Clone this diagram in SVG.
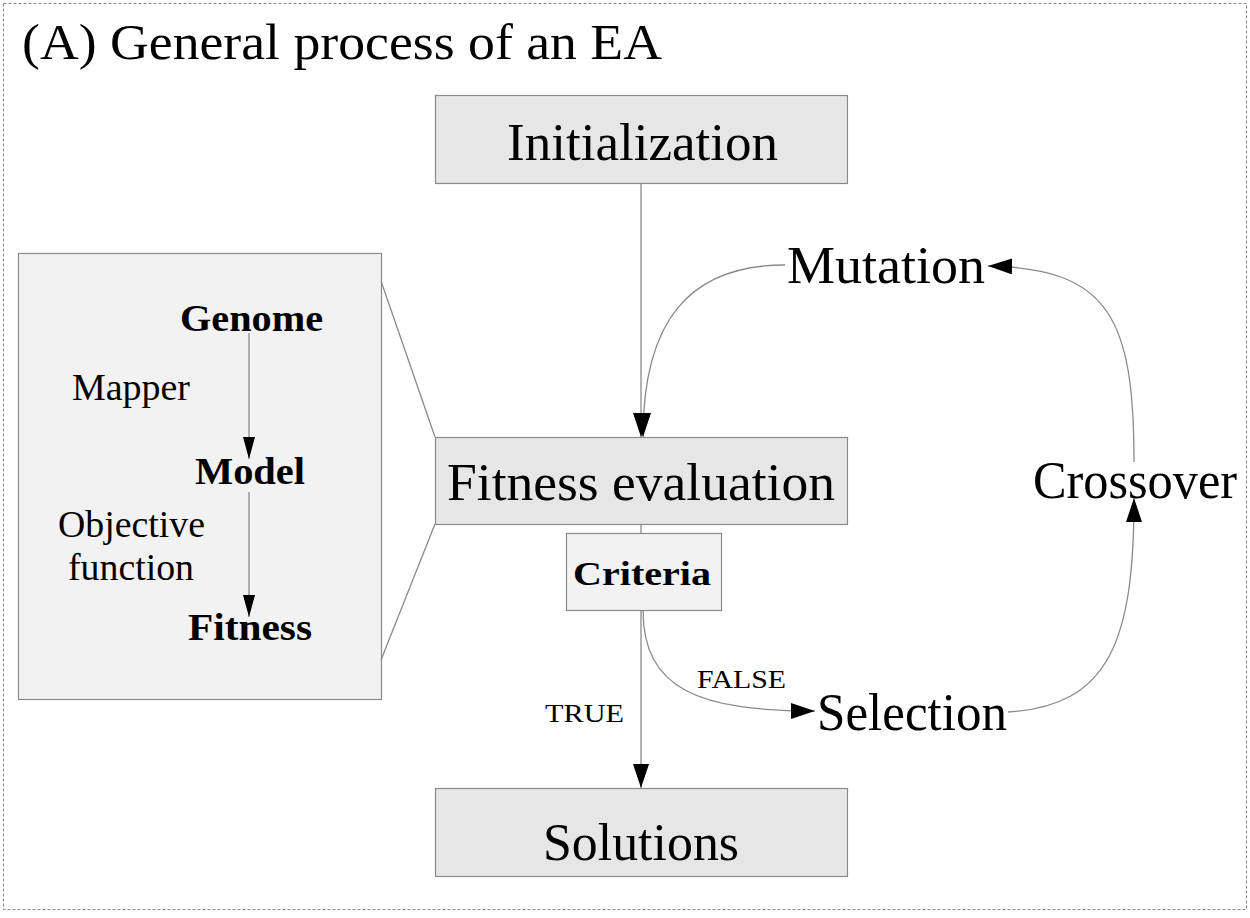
<svg xmlns="http://www.w3.org/2000/svg" width="1250" height="918" viewBox="0 0 1250 918">
<defs>
<style>
.t{font-family:"Liberation Serif","DejaVu Serif",serif;fill:#000}
.big{font-size:52px}
.mid{font-size:37px}
.b{font-weight:bold}
.box{fill:#e6e6e6;stroke:#8a8a8a;stroke-width:1.2}
.lbox{fill:#f2f2f2;stroke:#8a8a8a;stroke-width:1.2}
.c{fill:none;stroke:#8a8a8a;stroke-width:1.3}
</style>
<marker id="ah" viewBox="0 0 24 16" refX="24" refY="8" markerWidth="24" markerHeight="16" markerUnits="userSpaceOnUse" orient="auto"><path d="M0,0 L24,8 L0,16 z" fill="#000"/></marker>
<marker id="as" viewBox="0 0 22 12" refX="22" refY="6" markerWidth="22" markerHeight="12" markerUnits="userSpaceOnUse" orient="auto"><path d="M0,0 L22,6 L0,12 z" fill="#000"/></marker>
</defs>
<rect x="3.5" y="3.5" width="1243" height="906" fill="#fff" stroke="#8a8a8a" stroke-width="1" stroke-dasharray="3,2"/>
<text class="t" x="22" y="59" font-size="50" textLength="640" lengthAdjust="spacingAndGlyphs">(A) General process of an EA</text>

<g id="mapper-panel">
<rect class="lbox" x="18.5" y="253.5" width="363" height="446"/>
<text class="t mid b" x="180" y="331" textLength="143" lengthAdjust="spacingAndGlyphs">Genome</text>
<text class="t mid b" x="195" y="484" textLength="110" lengthAdjust="spacingAndGlyphs">Model</text>
<text class="t mid b" x="188" y="640" textLength="124" lengthAdjust="spacingAndGlyphs">Fitness</text>
<text class="t mid" x="72" y="400" textLength="118" lengthAdjust="spacingAndGlyphs">Mapper</text>
<text class="t mid" x="58" y="537" textLength="147" lengthAdjust="spacingAndGlyphs">Objective</text>
<text class="t mid" x="68" y="580" textLength="126" lengthAdjust="spacingAndGlyphs">function</text>
</g>

<g id="initialization">
<rect class="box" x="435.5" y="95.5" width="412" height="88"/>
<text class="t big" x="507" y="160" textLength="271" lengthAdjust="spacingAndGlyphs">Initialization</text>
</g>
<g id="fitness-evaluation">
<rect class="box" x="435.5" y="437.5" width="412" height="87"/>
<text class="t big" x="447" y="500" textLength="388" lengthAdjust="spacingAndGlyphs">Fitness evaluation</text>
</g>
<g id="criteria">
<rect class="lbox" x="566.5" y="533.5" width="155" height="77"/>
<text class="t b" font-size="33" x="573" y="585" textLength="138" lengthAdjust="spacingAndGlyphs">Criteria</text>
</g>
<g id="solutions">
<rect class="box" x="435.5" y="788.5" width="412" height="88"/>
<text class="t big" x="543" y="860" textLength="196" lengthAdjust="spacingAndGlyphs">Solutions</text>
</g>
<g id="mutation"><text class="t big" x="787" y="283" textLength="198" lengthAdjust="spacingAndGlyphs">Mutation</text></g>
<g id="crossover"><text class="t big" x="1033" y="498" textLength="204" lengthAdjust="spacingAndGlyphs">Crossover</text></g>
<g id="selection"><text class="t big" x="817" y="730" textLength="190" lengthAdjust="spacingAndGlyphs">Selection</text></g>

<g id="connectors">
<line class="c" x1="381" y1="281" x2="435" y2="437"/>
<line class="c" x1="381" y1="660" x2="435" y2="524"/>
<line class="c" x1="249" y1="333" x2="249" y2="459" marker-end="url(#as)"/>
<line class="c" x1="249" y1="492" x2="249" y2="617" marker-end="url(#as)"/>
<line class="c" x1="641" y1="183" x2="641" y2="437" marker-end="url(#ah)"/>
<path class="c" d="M785,265 C690,265 643,320 643,437" marker-end="url(#ah)"/>
<line class="c" x1="641" y1="524" x2="641" y2="533"/>
<line class="c" x1="641" y1="610" x2="641" y2="788" marker-end="url(#ah)"/>
<path class="c" d="M643,610 C643,690 700,711 815,711" marker-end="url(#ah)"/>
<path class="c" d="M1008,712 C1110,706 1134,640 1134,498" marker-end="url(#ah)"/>
<path class="c" d="M1134,462 C1134,320 1110,268 988,266" marker-end="url(#ah)"/>
<text class="t" font-size="25" x="697" y="688" textLength="89" lengthAdjust="spacingAndGlyphs">FALSE</text>
<text class="t" font-size="25" x="545" y="722" textLength="79" lengthAdjust="spacingAndGlyphs">TRUE</text>
</g>
</svg>
